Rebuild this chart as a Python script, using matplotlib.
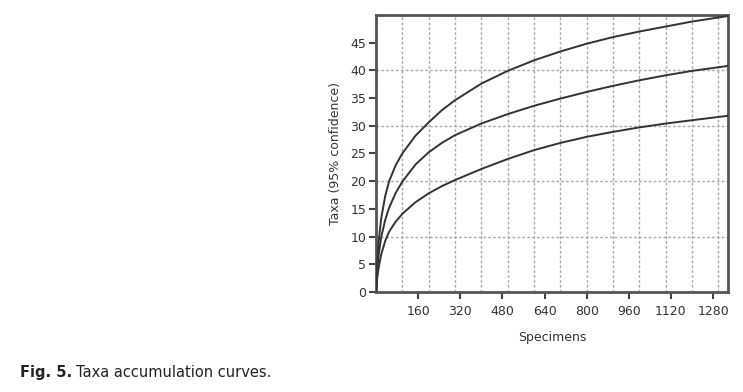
import matplotlib
matplotlib.use('Agg')
import matplotlib.pyplot as plt
from matplotlib.ticker import MultipleLocator

# values (specimens vs taxa)
specimens = [0, 2, 5, 10, 20, 35, 50, 75, 100, 150, 200, 250, 300, 400, 500,
             600, 700, 800, 900, 1000, 1100, 1200, 1337]
taxa_upper = [0, 2.6, 5.6, 9.0, 13.3, 17.3, 20.0, 22.9, 25.0, 28.2, 30.6, 32.8, 34.6, 37.6, 39.9,
              41.8, 43.4, 44.8, 46.0, 47.0, 47.9, 48.8, 49.8]
taxa_mid = [0, 1.8, 4.0, 6.6, 9.9, 13.0, 15.2, 17.9, 19.9, 23.0, 25.2, 26.9, 28.3, 30.4, 32.1,
            33.6, 34.9, 36.1, 37.2, 38.2, 39.1, 39.9, 40.8]
taxa_lower = [0, 1.2, 2.6, 4.3, 6.8, 9.2, 10.9, 12.7, 14.1, 16.2, 17.8, 19.1, 20.2, 22.2, 24.0,
              25.6, 26.9, 28.0, 28.9, 29.7, 30.4, 31.0, 31.8]

x_ticks = [160, 320, 480, 640, 800, 960, 1120, 1280]
y_ticks = [0, 5, 10, 15, 20, 25, 30, 35, 40, 45]

fig = plt.figure(figsize=(7.43, 3.92), dpi=100)
ax = fig.add_axes([0.506, 0.255, 0.474, 0.707])

for series in [taxa_upper, taxa_mid, taxa_lower]:
    ax.plot(specimens, series, color='#333333', linewidth=1.4, zorder=3,
            solid_joinstyle='round')

ax.set_xlim(0, 1337)
ax.set_ylim(0, 50)
ax.set_xticks(x_ticks)
ax.set_yticks(y_ticks)

# grid sits on its own spacing, not on the labelled ticks
ax.xaxis.set_minor_locator(MultipleLocator(100))
ax.yaxis.set_minor_locator(MultipleLocator(10))
ax.xaxis.remove_overlapping_locs = False
ax.yaxis.remove_overlapping_locs = False
ax.tick_params(which='minor', length=0)
ax.grid(which='minor', color='#aaaaaa', linestyle=(0, (2, 1.5)), linewidth=1)
ax.grid(which='major', visible=False)

ax.tick_params(which='major', direction='out', length=5, width=1.5, color='#444444',
               labelsize=9, labelcolor='#333333')
ax.tick_params(axis='x', which='major', pad=4)
ax.tick_params(axis='y', which='major', pad=2)
for s in ax.spines.values():
    s.set_color('#555555')
    s.set_linewidth(2)

ax.set_xlabel('Specimens', fontsize=9, color='#333333', labelpad=10)
ax.set_ylabel('Taxa (95% confidence)', fontsize=9, color='#333333', labelpad=6)

# caption
t1 = fig.text(0.027, 0.037, 'Fig. 5.', fontsize=10.5, fontweight='bold', color='#222222')
fig.canvas.draw()
bb = t1.get_window_extent()
fig.text((bb.x1 + 4) / fig.bbox.width, 0.037, 'Taxa accumulation curves.', fontsize=10.5, color='#222222')

fig.savefig('out.png', dpi=100)
